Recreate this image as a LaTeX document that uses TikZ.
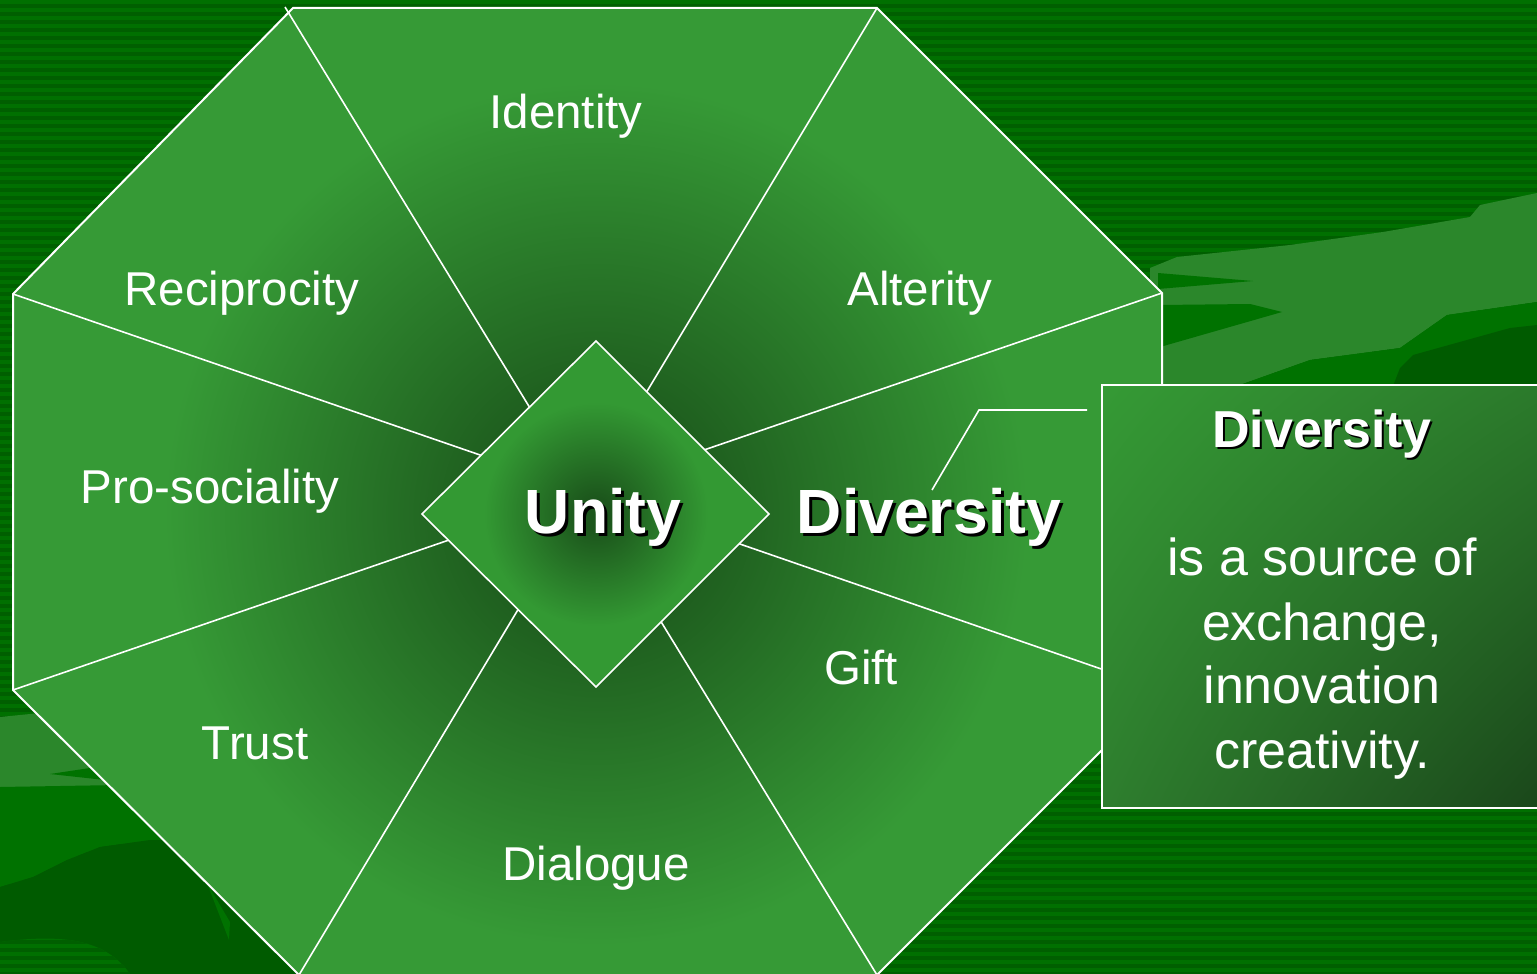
\documentclass[tikz,border=0pt]{standalone}
\usepackage{fontspec}
\setmainfont{Liberation Sans}
\usetikzlibrary{shadings}
\definecolor{stripeA}{HTML}{007000}
\definecolor{stripeB}{HTML}{005F00}
\definecolor{bandL}{HTML}{2B872B}
\definecolor{bandM}{HTML}{007200}
\definecolor{bandD}{HTML}{005B00}
\definecolor{secLight}{HTML}{369A36}
\definecolor{secDark}{HTML}{1D5A1D}
\definecolor{diaLight}{HTML}{339933}
\definecolor{diaDark}{HTML}{1C561C}
\definecolor{boxTL}{HTML}{359A35}
\definecolor{boxTR}{HTML}{2B7A2B}
\definecolor{boxBL}{HTML}{2E7E2E}
\definecolor{boxBR}{HTML}{1A461A}
\pgfdeclareradialshading{octshade}{\pgfpoint{0bp}{0bp}}{color(0bp)=(secDark); color(3bp)=(secDark); color(13.5bp)=(secLight); color(25bp)=(secLight); color(50bp)=(secLight)}
\pgfdeclareradialshading{diashade}{\pgfpoint{0bp}{0bp}}{color(0bp)=(diaDark); color(2bp)=(diaDark); color(14bp)=(diaLight); color(50bp)=(diaLight)}
\begin{document}
\begin{tikzpicture}[x=1pt,y=-1pt,
  lbl/.style={text=white,font=\fontsize{47.5}{56}\selectfont,anchor=base,inner sep=0pt},
  bigb/.style={font=\bfseries\fontsize{62.5}{72}\selectfont,anchor=base,inner sep=0pt},
  boxtxt/.style={text=white,font=\fontsize{52}{62}\selectfont,anchor=base,inner sep=0pt},
  boxb/.style={font=\bfseries\fontsize{52}{62}\selectfont,anchor=base,inner sep=0pt},
  wline/.style={draw=white,line width=2pt},
  spoke/.style={draw=white,line width=1.6pt}]
\clip (0,0) rectangle (1537,974);
% background stripes
\fill[stripeA] (0,0) rectangle (1537,974);
\foreach \i in {0,...,121} {\fill[stripeB] (0,\i*8+4) rectangle (1537,\i*8+8);}
% right side landscape
\fill[bandL] (1150,268) -- (1177,257) -- (1290,245) -- (1383,232) -- (1470,217) -- (1480,205) -- (1537,193) -- (1537,302) -- (1447,315) -- (1400,348) -- (1310,360) -- (1237,386) -- (1150,386) -- cycle;
\fill[bandM] (1158,273) -- (1253,281) -- (1158,289) -- cycle;
\fill[bandM] (1160,305) -- (1250,304) -- (1282,312) -- (1160,347) -- cycle;
\fill[bandM] (1237,386) -- (1310,360) -- (1400,348) -- (1447,315) -- (1537,302) -- (1537,386) -- cycle;
\fill[bandD] (1393,386) -- (1400,368) -- (1413,355) -- (1510,328) -- (1537,325) -- (1537,386) -- cycle;
% left bottom landscape
\fill[bandL] (0,717) -- (40,713) -- (120,713) -- (120,787) -- (0,787) -- cycle;
\fill[bandM] (50,774) -- (90,768) -- (105,780) -- cycle;
\fill[bandM] (0,787) -- (180,784) -- (180,840) -- (150,840) -- (100,847) -- (67,860) -- (33,877) -- (0,887) -- cycle;
\fill[bandD] (0,887) -- (33,877) -- (67,860) -- (100,847) -- (150,840) -- (180,840) -- (320,974) -- (0,974) -- cycle;
\fill[bandM] (207,883) -- (230,922) -- (229,940) -- cycle;
\begin{scope}
  \clip (0,942) .. controls (60,934) and (105,938) .. (130,974) -- (0,974) -- cycle;
  \fill[stripeA] (0,930) rectangle (140,974);
  \foreach \i in {116,...,121} {\fill[stripeB] (0,\i*8+4) rectangle (140,\i*8+8);}
\end{scope}
% octagon vertices
\coordinate (o1) at (293,8);
\coordinate (o2) at (877,8);
\coordinate (o3) at (1162,293);
\coordinate (o4) at (1162,690);
\coordinate (o5) at (877,975);
\coordinate (o6) at (299,975);
\coordinate (o7) at (13,690);
\coordinate (o8) at (13,294);
\coordinate (c) at (596,514);
% octagon fill
\begin{scope}
  \clip (o1) -- (o2) -- (o3) -- (o4) -- (o5) -- (o6) -- (o7) -- (o8) -- cycle;
  \shade[shading=octshade] (c) circle (800);
\end{scope}
% spokes
\coordinate (s1) at (285,7);
\coordinate (d1) at (530,408);
\coordinate (d2) at (646,393);
\coordinate (d3) at (704,450);
\coordinate (d4) at (737,543);
\coordinate (d5) at (660,620);
\coordinate (d6) at (519,608);
\coordinate (d7) at (449,540);
\coordinate (d8) at (483,456);
\draw[spoke] (s1) -- (d1);
\draw[spoke] (o2) -- (d2);
\draw[spoke] (o3) -- (d3);
\draw[spoke] (o4) -- (d4);
\draw[spoke] (o5) -- (d5);
\draw[spoke] (o6) -- (d6);
\draw[spoke] (o7) -- (d7);
\draw[spoke] (o8) -- (d8);
% octagon border
\draw[wline,line join=miter] (o1) -- (o2) -- (o3) -- (o4) -- (o5) -- (o6) -- (o7) -- (o8) -- cycle;
% diamond
\coordinate (q1) at (596,341);
\coordinate (q2) at (769,514);
\coordinate (q3) at (596,687);
\coordinate (q4) at (422,514);
\begin{scope}
  \clip (q1) -- (q2) -- (q3) -- (q4) -- cycle;
  \shade[shading=diashade] (c) circle (200);
\end{scope}
\draw[draw=white,line width=1.6pt] (q1) -- (q2) -- (q3) -- (q4) -- cycle;
% right box
\shade[upper left=boxTL, upper right=boxTR, lower left=boxBL, lower right=boxBR] (1102,385) rectangle (1545,808);
\draw[wline] (1545,385) -- (1102,385) -- (1102,808) -- (1545,808);
% labels
\node[lbl] (identity) at (566,128) {Identity};
\node[lbl] (recip) at (242,305) {Reciprocity};
\node[lbl] (alter) at (920,305) {Alterity};
\node[lbl] (prosoc) at (210,503) {Pro-sociality};
\node[lbl] (trust) at (255,759) {Trust};
\node[lbl] (dialogue) at (596,880) {Dialogue};
\node[lbl] (gift) at (861,684) {Gift};
\node[bigb,text=black] (unityS) at (606,536) {Unity};
\node[bigb,text=white] (unity) at (603,533) {Unity};
\node[bigb,text=black] (diversS) at (932,536) {Diversity};
\node[bigb,text=white] (divers) at (929,533) {Diversity};
\node[boxb,text=black] (titleS) at (1324,449) {Diversity};
\node[boxb,text=white] (title) at (1322,447) {Diversity};
\node[boxtxt] (l1) at (1322,575) {is a source of};
\node[boxtxt] (l2) at (1322,640) {exchange,};
\node[boxtxt] (l3) at (1322,703) {innovation};
\node[boxtxt] (l4) at (1322,768) {creativity.};
% callout
\coordinate (k1) at (932,490);
\coordinate (k2) at (979,410);
\coordinate (k3) at (1087,410);
\draw[draw=white,line width=1.6pt] (k1) -- (k2) -- (k3);
\end{tikzpicture}
\end{document}
